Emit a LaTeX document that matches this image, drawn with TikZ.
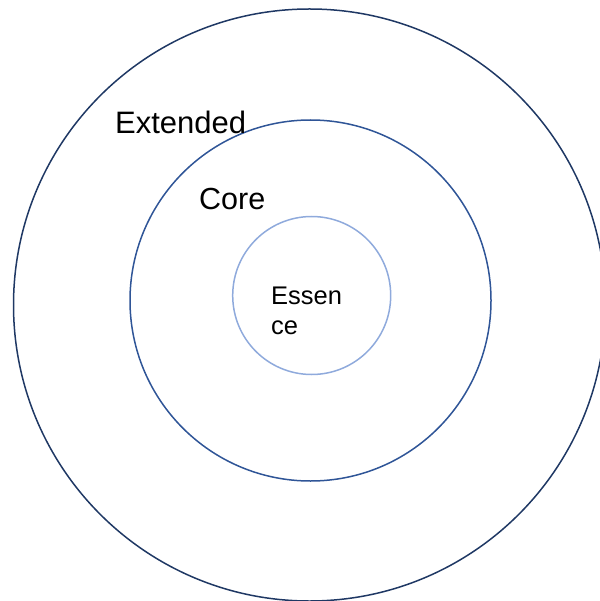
\documentclass[tikz,border=0pt]{standalone}
\usepackage{fontspec}
\setmainfont{Liberation Sans}
\definecolor{outerc}{RGB}{31,56,100}
\definecolor{middlec}{RGB}{47,85,151}
\definecolor{innerc}{RGB}{143,170,220}
\begin{document}
\begin{tikzpicture}[x=1pt,y=-1pt,
  ring/.style={circle, draw, line width=1.5pt, inner sep=0pt, minimum size=#1},
  ringtext/.style={anchor=base west, inner sep=0pt, text=black}
]
\useasboundingbox (0,0) rectangle (599,601);
% three nested rings
\node[ring=592pt, draw=outerc] (extended) at (309.5,305) {};
\node[ring=361pt, draw=middlec] (core) at (310.5,300.5) {};
\node[ring=158pt, draw=innerc] (essence) at (311.7,295.5) {};
% ring labels (a multi-line node sits on the baseline of its last line)
\node[ringtext, font=\fontsize{31}{36}\selectfont] (extendedtext) at (115,134) {Extended};
\node[ringtext, font=\fontsize{30.5}{36}\selectfont] (coretext) at (199,210) {Core};
\node[ringtext, font=\fontsize{25.5}{30}\selectfont, align=left] (essencetext) at (271,334.3) {Essen\\ce};
\end{tikzpicture}
\end{document}
